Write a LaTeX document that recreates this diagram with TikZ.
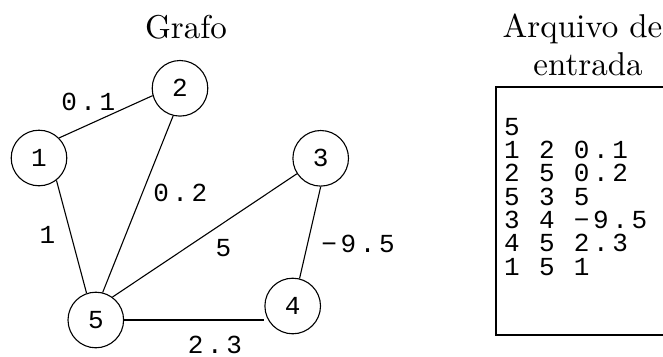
\documentclass[tikz,border=0pt]{standalone}
\usepackage{fontspec}
\newfontfamily\monof[LetterSpace=14]{Liberation Mono}
\newfontfamily\monoplain{Liberation Mono}
\newfontfamily\titlef{lmroman10-regular.otf}
\begin{document}
\begin{tikzpicture}[x=1pt,y=-1pt,
  every node/.style={inner sep=0pt},
  vert/.style={circle,draw,line width=1.1pt,minimum size=55.6pt,font=\monoplain\fontsize{26}{26}\selectfont},
  edge/.style={line width=1.1pt},
  wlabel/.style={anchor=base,font=\monof\fontsize{26}{26}\selectfont},
  title/.style={anchor=base,font=\titlef\fontsize{33}{33}\selectfont}]
\useasboundingbox (0,0) rectangle (663,356);
\node[title] (tg) at (186,38) {Grafo};
\node[title] (ta) at (582.5,37) {Arquivo de};
\node[title] (te) at (588,75) {entrada};
\node[vert] (n1) at (39,158) {1};
\node[vert] (n2) at (180,88.3) {2};
\node[vert] (n3) at (320.7,158.3) {3};
\node[vert] (n4) at (292.7,306) {4};
\node[vert] (n5) at (95.8,320) {5};
\draw[edge] (n1.45) -- (n2.195);
\draw[edge] (n2.256) -- (n5.76);
\draw[edge] (n1.308) -- (n5.109);
\draw[edge] (n5.54) -- (n3.213);
\draw[edge] (n3.270) -- (n4.76);
\draw[edge] (n5.east) -- (n5.east -| n4.west);
\node[wlabel] (w12) at (88.3,110) {0.1};
\node[wlabel] (w25) at (180.3,201.7) {0.2};
\node[wlabel] (w15) at (47.5,243) {1};
\node[wlabel] (w53) at (223.3,256.7) {5};
\node[wlabel] (w34) at (358,252) {−9.5};
\node[wlabel] (w45) at (215,353) {2.3};
\draw[line width=1.8pt] (663,87) -- (496,87) -- (496,335) -- (663,335);
\node[font=\monof\fontsize{26}{23.3}\selectfont,align=left,anchor=base west] (tab) at (504,275)
  {5\\1 2 0.1\\2 5 0.2\\5 3 5\\3 4 −9.5\\4 5 2.3\\1 5 1};
\end{tikzpicture}
\end{document}
